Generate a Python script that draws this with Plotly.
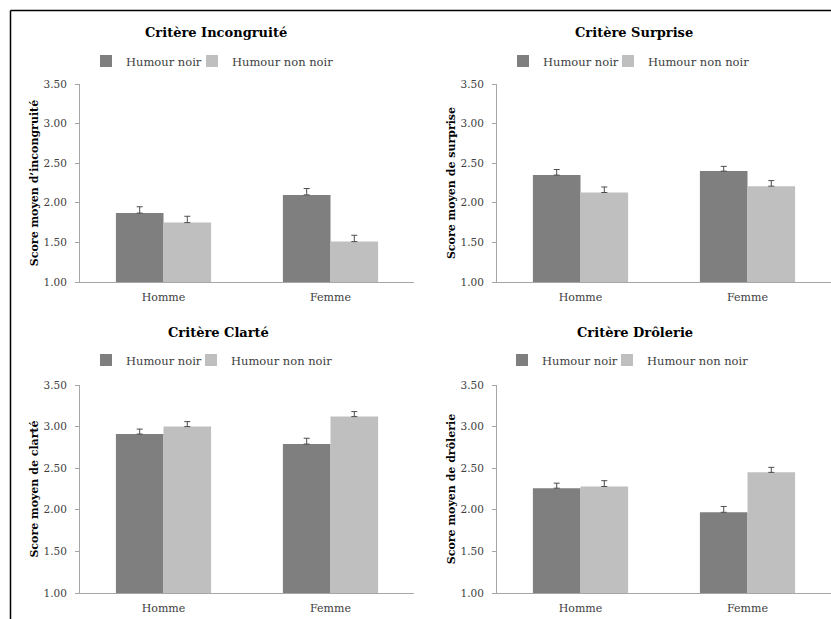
import plotly.graph_objects as go

W, H = 831, 619

categories = ["Homme", "Femme"]
series_names = ["Humour noir", "Humour non noir"]
tick_values = [1.0, 1.5, 2.0, 2.5, 3.0, 3.5]

incongruite_noir = [1.87, 2.10]
incongruite_noir_err = [0.08, 0.08]
incongruite_non_noir = [1.75, 1.51]
incongruite_non_noir_err = [0.08, 0.08]

surprise_noir = [2.35, 2.40]
surprise_noir_err = [0.07, 0.06]
surprise_non_noir = [2.13, 2.21]
surprise_non_noir_err = [0.07, 0.07]

clarte_noir = [2.91, 2.79]
clarte_noir_err = [0.06, 0.07]
clarte_non_noir = [3.00, 3.12]
clarte_non_noir_err = [0.06, 0.06]

drolerie_noir = [2.26, 1.97]
drolerie_noir_err = [0.06, 0.07]
drolerie_non_noir = [2.28, 2.45]
drolerie_non_noir_err = [0.07, 0.06]

panel_titles = ["Critère Incongruité", "Critère Surprise", "Critère Clarté", "Critère Drôlerie"]
y_titles = ["Score moyen d’incongruité", "Score moyen de surprise",
            "Score moyen de clarté", "Score moyen de drôlerie"]

panels = [
    (incongruite_noir, incongruite_noir_err, incongruite_non_noir, incongruite_non_noir_err),
    (surprise_noir, surprise_noir_err, surprise_non_noir, surprise_non_noir_err),
    (clarte_noir, clarte_noir_err, clarte_non_noir, clarte_non_noir_err),
    (drolerie_noir, drolerie_noir_err, drolerie_non_noir, drolerie_non_noir_err),
]

FONT = "DejaVu Serif"
DARK = "#7f7f7f"
LIGHT = "#bfbfbf"
TXT = "#404040"
AXC = "#a6a6a6"

def px_x(p):
    return p / W

def px_y(p):
    return 1 - p / H

# pixel layout of each panel:
# (x0, x1, ytop, ybottom, title_x, title_y, legend_item1_left, legend_item2_left, legend_y)
layout_px = [
    (80, 414, 84, 282, 216, 32, 86, 192, 61),
    (497, 831, 84, 282, 634, 32, 503, 608, 61),
    (80, 414, 385, 593, 218, 332, 86, 191, 360),
    (497, 831, 385, 593, 635, 332, 502, 607, 360),
]

fig = go.Figure()
annotations = []
layout_updates = {}

for i, (vals, lbl) in enumerate(zip(panels, panel_titles)):
    n_noir, e_noir, n_non, e_non = vals
    k = "" if i == 0 else str(i + 1)
    xa, ya = "x" + k, "y" + k
    x0, x1, yt, yb, tx, ty, l1, l2, ly = layout_px[i]
    for j, (name, yv, ev, col, lx) in enumerate([(series_names[0], n_noir, e_noir, DARK, l1),
                                                  (series_names[1], n_non, e_non, LIGHT, l2)]):
        idx = 2 * i + j + 1
        lg = "legend" if idx == 1 else "legend" + str(idx)
        fig.add_trace(go.Bar(
            x=categories, y=yv, name=name, xaxis=xa, yaxis=ya, legend=lg,
            marker=dict(color=col, line=dict(width=0)),
            error_y=dict(type="data", array=ev, arrayminus=[0] * len(ev), symmetric=False,
                         color="#4d4d4d", thickness=1, width=3),
        ))
        layout_updates[lg] = dict(
            x=px_x(lx), y=px_y(ly), xanchor="left", yanchor="middle",
            orientation="h", font=dict(family=FONT, size=11.5, color=TXT),
            bgcolor="rgba(0,0,0,0)", itemclick=False, itemdoubleclick=False,
        )
    layout_updates["xaxis" + k] = dict(
        domain=[px_x(x0), px_x(x1)], anchor=ya, type="category", range=[-0.5, 1.5],
        showline=True, linecolor=AXC, linewidth=1, ticks="", showgrid=False,
        ticklabelstandoff=5,
        tickfont=dict(family=FONT, size=11, color=TXT), fixedrange=True,
    )
    layout_updates["yaxis" + k] = dict(
        domain=[px_y(yb), px_y(yt)], anchor=xa, range=[1.0, 3.5],
        tickvals=tick_values, tickformat=".2f",
        showline=True, linecolor=AXC, linewidth=1, ticks="outside", ticklen=4,
        tickcolor=AXC, showgrid=False, zeroline=False, ticklabelstandoff=6,
        tickfont=dict(family=FONT, size=10.5, color=TXT),
        title=dict(text="<b>" + y_titles[i] + "</b>", standoff=2,
                   font=dict(family=FONT, size=11, color="#000000")),
        automargin=False,
    )
    annotations.append(dict(
        text="<b>" + lbl + "</b>", x=px_x(tx), y=px_y(ty), xref="paper", yref="paper",
        xanchor="center", yanchor="middle", showarrow=False,
        font=dict(family=FONT, size=13, color="#000000"),
    ))

fig.update_layout(
    width=W, height=H, margin=dict(l=0, r=0, t=0, b=0),
    paper_bgcolor="white", plot_bgcolor="white",
    barmode="group", bargap=0.43, bargroupgap=0,
    showlegend=True, annotations=annotations,
    shapes=[
        dict(type="line", xref="paper", yref="paper", x0=px_x(10.5), x1=1, y0=px_y(10.5), y1=px_y(10.5),
             line=dict(color="#000000", width=1.5)),
        dict(type="line", xref="paper", yref="paper", x0=px_x(10.5), x1=px_x(10.5), y0=px_y(10.5), y1=0,
             line=dict(color="#000000", width=1.5)),
    ],
    **layout_updates,
)

fig.write_html(
    "out.html",
    config={"displayModeBar": False},
    post_script="document.body.style.margin='0';document.body.style.overflow='hidden';",
)
